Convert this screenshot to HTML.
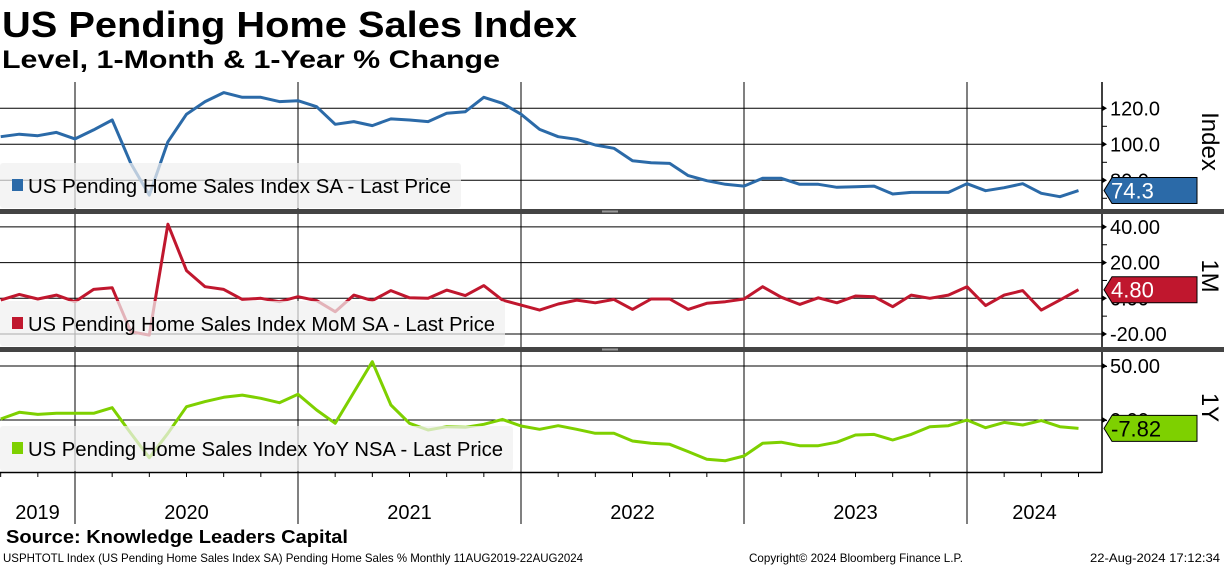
<!DOCTYPE html>
<html><head><meta charset="utf-8"><style>
body{margin:0;background:#fff;}
svg{display:block;font-family:"Liberation Sans",sans-serif;}
</style></head><body>
<svg id="c" width="1224" height="566" viewBox="0 0 1224 566" xmlns="http://www.w3.org/2000/svg">
<text x="2" y="37" font-size="36" font-weight="bold" textLength="575" lengthAdjust="spacingAndGlyphs">US Pending Home Sales Index</text>
<text x="2" y="68" font-size="25" font-weight="bold" textLength="498" lengthAdjust="spacingAndGlyphs">Level, 1-Month &amp; 1-Year % Change</text>
<g id="plot"></g>
<text x="6" y="543" font-size="18" font-weight="bold" textLength="342" lengthAdjust="spacingAndGlyphs">Source: Knowledge Leaders Capital</text>
<text x="3" y="562" font-size="12" textLength="580" lengthAdjust="spacingAndGlyphs">USPHTOTL Index (US Pending Home Sales Index SA) Pending Home Sales %  Monthly 11AUG2019-22AUG2024</text>
<text x="749" y="562" font-size="12" textLength="214" lengthAdjust="spacingAndGlyphs">Copyright© 2024 Bloomberg Finance L.P.</text>
<text x="1090" y="562" font-size="12" textLength="130" lengthAdjust="spacingAndGlyphs">22-Aug-2024 17:12:34</text>
</svg>
<script>
const startLabel = "Sep 2019";
const years = ["2019","2020","2021","2022","2023","2024"];
const levelValues = [104.2,105.6,104.8,106.6,103,108,113.5,89.4,71.8,101.4,116.7,123.7,128.7,126.1,126.1,123.7,124.2,120.9,111.1,112.6,110.4,114.1,113.5,112.6,117.2,118.1,126.1,122.8,116.7,108.3,104.2,102.8,99.6,97.8,90.9,89.8,89.4,82.6,79.8,77.8,76.8,81.1,81.1,77.8,77.8,76.1,76.4,76.8,72.4,73.3,73.3,73.3,78.1,74.2,75.9,78.1,72.8,70.9,74.3];
const momValues = [-1,2.2,-0.4,1.8,-1.9,5,5.9,-18.7,-20.6,41.5,15.5,6.5,5,-0.6,0,-1.9,0.9,-1.3,-7.5,1.8,-1.3,4.3,0.3,0,4.6,1.5,7.1,-1,-3.8,-6.6,-3.2,-1,-2.5,-0.6,-6.2,-0.4,-0.4,-6.2,-2.8,-1.9,-0.4,6.5,0.6,-3.4,0.3,-2.5,1.3,0.9,-4.7,1.8,0,1.8,6.5,-4.1,1.8,4.3,-6.6,-1,4.8];
const yoyValues = [0.9,7.1,5.2,6.2,6.2,6.2,11.4,-12.3,-34.9,-12.3,12.3,17,21,23.1,20.1,16,23.8,9.3,-3.1,25.6,54,13.9,-3.1,-9.3,-6.2,-6.8,-4,0.6,-5.6,-8.6,-5.3,-8.6,-12.3,-12.3,-19.4,-21.6,-22.5,-29.3,-36.4,-37.7,-33.3,-21.6,-20.6,-23.8,-23.8,-20.6,-13.9,-13.3,-18.5,-13.3,-6.2,-5.3,0,-7.1,-2.2,-4.6,-0.6,-6.2,-7.8];
const levelTicks = [120,100,80];
const momTicks = [40,20,0,-20];
const yoyTicks = [50,0];
const levelTickLabels = ["120.0","100.0","80.0"];
const momTickLabels = ["40.00","20.00","0.00","-20.00"];
const yoyTickLabels = ["50.00","0.00"];

const NS="http://www.w3.org/2000/svg";
const g=document.getElementById('plot');
function mk(t,a,p){const e=document.createElementNS(NS,t);for(const k in a)e.setAttribute(k,a[k]);(p||g).appendChild(e);return e;}
const AX=1102, MW=223/12, X0=75-4*MW; // index 0 = Sep 2019
function xs(i){return X0+i*MW;}
const panels=[
 {vals:levelValues,ticks:levelTicks,labels:levelTickLabels,top:82,bot:209,v0:120,y0:108.3,k:1.8,color:"#2b6aa8",tagText:"74.3",tagTxt:"#fff",title:"Index",legend:"US Pending Home Sales Index SA - Last Price",lw:461,name:"level"},
 {vals:momValues,ticks:momTicks,labels:momTickLabels,top:213,bot:347,v0:0,y0:298.3,k:1.785,color:"#c0172e",tagText:"4.80",tagTxt:"#fff",title:"1M",legend:"US Pending Home Sales Index MoM SA - Last Price",lw:505,name:"mom"},
 {vals:yoyValues,ticks:yoyTicks,labels:yoyTickLabels,top:351,bot:472,v0:0,y0:420,k:1.08,color:"#7ed000",tagText:"-7.82",tagTxt:"#000",title:"1Y",legend:"US Pending Home Sales Index YoY NSA - Last Price",lw:513,name:"yoy"}
];
for(let y=1;y<years.length;y++){
  const x=75+(y-1)*223;
  const l=mk('line',{x1:x,x2:x,y1:82,y2:524,stroke:"#000","stroke-width":1});
  
  
}
panels.forEach(p=>{
  const ys=v=>p.y0-(v-p.v0)*p.k;
  p.ticks.forEach((t,i)=>{
    const y=ys(t);
    const l=mk('line',{x1:0,x2:AX,y1:y,y2:y,stroke:"#000","stroke-width":1});
    
    
    mk('path',{d:`M${AX} ${y-3}L${AX+5} ${y}L${AX} ${y+3}Z`,fill:"#000"});
    const tx=mk('text',{x:AX+8,y:y+7,"font-size":20});
    tx.textContent=p.labels[i];
    
    
  });
  for(let i=0;i<p.ticks.length;i++){const y=ys(p.ticks[i])+(ys(p.ticks[1]||p.ticks[0]-1)-ys(p.ticks[0]))/2; if(y>p.top&&y<p.bot) mk('line',{x1:AX,x2:AX+5,y1:y,y2:y,stroke:"#000"});}
  const pts=p.vals.map((v,i)=>xs(i).toFixed(1)+","+ys(v).toFixed(1)).join(" ");
  const line=mk('polyline',{points:pts,fill:"none",stroke:p.color,"stroke-width":3,"stroke-linejoin":"round"});
  
  
  const lb=mk('rect',{x:0,y:p.bot-46,width:p.lw,height:45,rx:3,fill:"rgba(240,240,240,0.72)"});
  
  
  mk('rect',{x:12,y:p.bot-30,width:11,height:12,fill:p.color});
  const lt=mk('text',{x:28,y:p.bot-16,"font-size":20,textLength:p.lw-38,lengthAdjust:"spacingAndGlyphs"});
  lt.textContent=p.legend;
  
  
  const last=p.vals[p.vals.length-1], ty=ys(last);
  const tg=mk('path',{d:`M${AX+2} ${ty}L${AX+10} ${ty-13}L${AX+95} ${ty-13}L${AX+95} ${ty+13}L${AX+10} ${ty+13}Z`,fill:p.color,stroke:"#000","stroke-width":1});
  
  
  const tt=mk('text',{x:AX+9,y:ty+8,"font-size":22,fill:p.tagTxt});
  tt.textContent=p.tagText;
  
  
  const at=mk('text',{transform:`translate(1202 ${(p.top+p.bot)/2-4}) rotate(90)`,"font-size":24,"text-anchor":"middle"});
  at.textContent=p.title;
  
  
});
mk('line',{x1:AX,x2:AX,y1:82,y2:473,stroke:"#000","stroke-width":1.5});
[209,347].forEach(y=>{const s=mk('rect',{x:0,y:y,width:1224,height:5,fill:"#444"});
 
 
 mk('rect',{x:602,y:y+1.5,width:16,height:2,fill:"#999"});});
mk('line',{x1:0,x2:AX,y1:472.5,y2:472.5,stroke:"#000","stroke-width":1.5});
for(let m=-8;m<=57;m+=2){const x=75+m*MW/1;if(x>0&&x<AX&&m%12!==0)mk('line',{x1:x,x2:x,y1:472,y2:477,stroke:"#000"});}
years.forEach((yr,i)=>{
  const a=Math.max(0,75+(i-1)*223), b=Math.min(AX,75+i*223);
  const t=mk('text',{x:(a+b)/2,y:519,"font-size":20,"text-anchor":"middle"});
  t.textContent=yr;
  
  
});
</script>
</body></html>
